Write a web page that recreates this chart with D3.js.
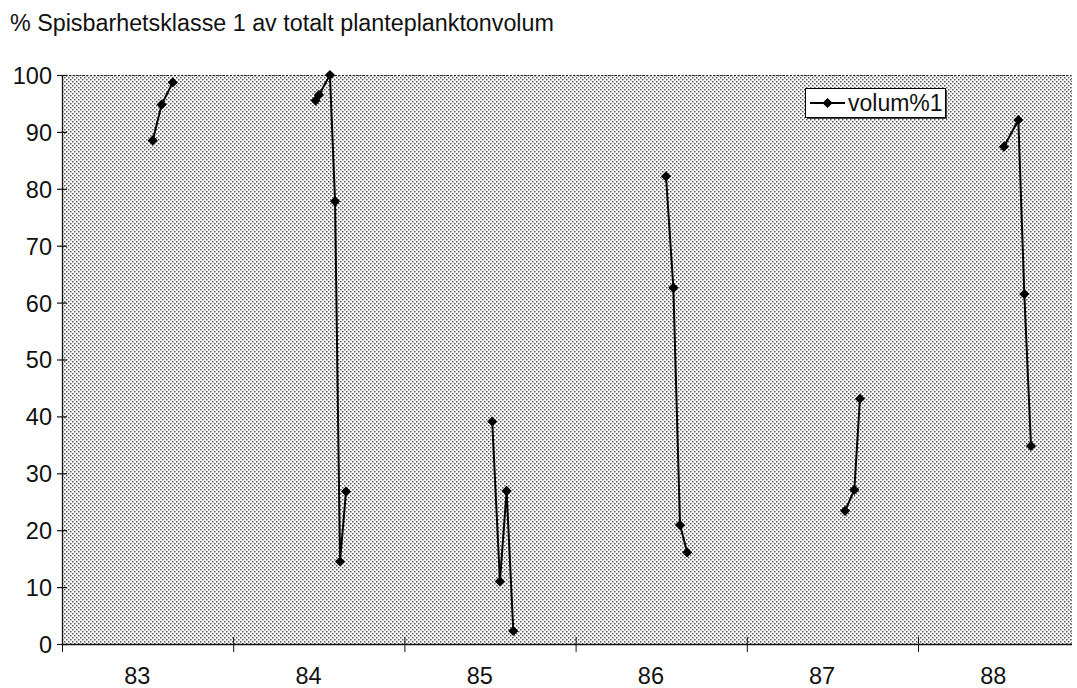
<!DOCTYPE html>
<html>
<head>
<meta charset="utf-8">
<script src="https://cdn.jsdelivr.net/npm/d3@7"></script>
<style>
  html, body { margin: 0; padding: 0; background: #fff; }
  svg { display: block; font-family: "Liberation Sans", Arial, Helvetica, sans-serif; }
</style>
</head>
<body>
<svg id="chart" width="1077" height="688"></svg>
<script>
// ---- data ----
const titleText = "% Spisbarhetsklasse 1 av totalt planteplanktonvolum";
const seriesName = "volum%1";
const yearLabels = ["83", "84", "85", "86", "87", "88"];
const yTicks = [0, 10, 20, 30, 40, 50, 60, 70, 80, 90, 100];
// sampling year of each observation
const sampleYear = [83, 83, 83,
                    84, 84, 84, 84, 84, 84,
                    85, 85, 85, 85,
                    86, 86, 86, 86,
                    87, 87, 87,
                    88, 88, 88, 88];
// sampling time (decimal year) of each observation
const sampleTime = [83.530, 83.582, 83.647,
                    84.481, 84.501, 84.565, 84.595, 84.624, 84.659,
                    85.513, 85.558, 85.597, 85.636,
                    86.528, 86.571, 86.610, 86.652,
                    87.574, 87.628, 87.661,
                    88.502, 88.586, 88.621, 88.660];
// % edibility class 1 of total phytoplankton volume
const volum1 = [88.5, 94.8, 98.7,
                95.5, 96.5, 100.0, 77.8, 14.5, 26.8,
                39.1, 11.0, 26.9, 2.3,
                82.2, 62.6, 20.9, 16.1,
                23.4, 27.1, 43.1,
                87.4, 92.1, 61.5, 34.8];

// ---- layout ----
const svg = d3.select("#chart");
const plot = { left: 62, right: 1072, top: 75, bottom: 644 };
const yearWidth = 171.2;

const x = d3.scaleLinear().domain([83, 89]).range([plot.left, plot.left + 6 * yearWidth]);
const y = d3.scaleLinear().domain([0, 100]).range([plot.bottom, plot.top]);

// dotted pattern background
const defs = svg.append("defs");
const pat = defs.append("pattern")
  .attr("id", "dots").attr("patternUnits", "userSpaceOnUse")
  .attr("x", plot.left).attr("y", plot.top)
  .attr("width", 4).attr("height", 4);
pat.append("rect").attr("width", 4).attr("height", 4).attr("fill", "#ffffff");
pat.append("rect").attr("x", 0).attr("y", 0).attr("width", 1.5).attr("height", 1.5).attr("fill", "#555");
pat.append("rect").attr("x", 2).attr("y", 2).attr("width", 1.5).attr("height", 1.5).attr("fill", "#555");

svg.append("rect")
  .attr("x", plot.left).attr("y", plot.top)
  .attr("width", plot.right - plot.left).attr("height", plot.bottom - plot.top)
  .attr("fill", "url(#dots)");

// dotted border top and right
svg.append("line")
  .attr("x1", plot.left).attr("x2", plot.right)
  .attr("y1", plot.top + 0.5).attr("y2", plot.top + 0.5)
  .attr("stroke", "#222").attr("stroke-width", 1.2).attr("stroke-dasharray", "2,1.5");
svg.append("line")
  .attr("x1", plot.right - 0.5).attr("x2", plot.right - 0.5)
  .attr("y1", plot.top).attr("y2", plot.bottom)
  .attr("stroke", "#777").attr("stroke-width", 1).attr("stroke-dasharray", "1,2");

// title
svg.append("text")
  .attr("x", 10).attr("y", 31)
  .attr("font-size", 23.3).attr("fill", "#111")
  .text(titleText);

// y axis
const yAxis = d3.axisLeft(y).tickValues(yTicks).tickSize(5).tickPadding(10).tickFormat(d3.format("d"));
const gy = svg.append("g").attr("transform", `translate(${plot.left},0)`).call(yAxis);
gy.select(".domain").attr("stroke", "#111").attr("stroke-width", 1.3).attr("d", `M0.5,${plot.top}V${plot.bottom}`);
gy.selectAll(".tick line").attr("x1", 5).attr("x2", -5).attr("stroke", "#111").attr("stroke-width", 1.2);
gy.selectAll(".tick text").attr("x", -10).attr("font-size", 23.5).attr("fill", "#111")
  .attr("font-family", "Liberation Sans, Arial, sans-serif").attr("dy", "0.36em");

// x axis (year boundaries)
const xAxis = d3.axisBottom(x).tickValues(d3.range(83, 89)).tickSize(7).tickFormat("");
const gx = svg.append("g").attr("transform", `translate(0,${plot.bottom})`).call(xAxis);
gx.select(".domain").attr("stroke", "#111").attr("stroke-width", 1.3).attr("d", `M${plot.left},0.5H${plot.right}`);
gx.selectAll(".tick line").attr("y1", -7).attr("y2", 8).attr("stroke", "#111").attr("stroke-width", 1);

// year labels
svg.append("g").selectAll("text").data(yearLabels).join("text")
  .attr("x", d => x(+d + 0.44))
  .attr("y", 684)
  .attr("text-anchor", "middle")
  .attr("font-size", 23.5).attr("fill", "#111")
  .text(d => d);

// series
const points = volum1.map((v, i) => ({ year: sampleYear[i], t: sampleTime[i], v }));
const groups = d3.groups(points, d => d.year);
const line = d3.line().x(d => x(d.t)).y(d => y(d.v));

svg.append("g").selectAll("path").data(groups).join("path")
  .attr("d", d => line(d[1]))
  .attr("fill", "none").attr("stroke", "#000").attr("stroke-width", 2);

const marker = d3.symbol().type(d3.symbolSquare).size(52);
svg.append("g").selectAll("path").data(points).join("path")
  .attr("transform", d => `translate(${x(d.t)},${y(d.v)}) rotate(45)`)
  .attr("d", marker).attr("fill", "#000");

// legend
const lg = svg.append("g").attr("transform", "translate(805,88)");
lg.append("rect").attr("x", 2).attr("y", 2).attr("width", 140).attr("height", 29).attr("fill", "#444");
lg.append("rect").attr("x", 0.5).attr("y", 0.5).attr("width", 140).attr("height", 29)
  .attr("fill", "#fff").attr("stroke", "#000").attr("stroke-width", 1);
lg.append("line").attr("x1", 5).attr("x2", 40).attr("y1", 15).attr("y2", 15)
  .attr("stroke", "#000").attr("stroke-width", 2);
lg.append("path").attr("transform", "translate(22.5,15) rotate(45)").attr("d", marker).attr("fill", "#000");
lg.append("text").attr("x", 43).attr("y", 15).attr("dy", "0.36em")
  .attr("font-size", 23).attr("fill", "#111").text(seriesName);
</script>
</body>
</html>
